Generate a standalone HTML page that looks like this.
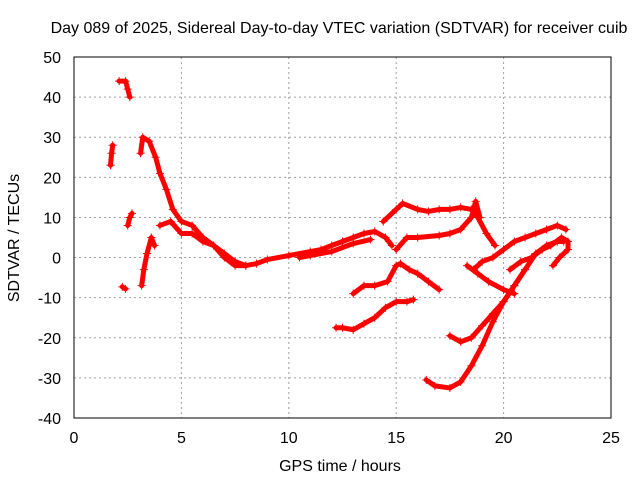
<!DOCTYPE html>
<html><head><meta charset="utf-8"><style>
body{margin:0;background:#fff}
svg text{font-family:"Liberation Sans",sans-serif;font-size:16px;fill:#000}
</style></head><body>
<svg id="chart" width="640" height="480" xmlns="http://www.w3.org/2000/svg">
<rect width="640" height="480" fill="#fff"/>
<text x="339" y="33" text-anchor="middle">Day 089 of 2025, Sidereal Day-to-day VTEC variation (SDTVAR) for receiver cuib</text>
<g id="grid"></g>
<g id="ticks"></g>
<g id="series"></g>
<rect x="74" y="57" width="537" height="361" fill="none" stroke="#000" stroke-width="1"/>
<text x="340" y="471" text-anchor="middle">GPS time / hours</text>
<text transform="translate(19,238) rotate(-90)" text-anchor="middle">SDTVAR / TECUs</text>
</svg>
<script>
const xTicks=[0,5,10,15,20,25];
const yTicks=[-40,-30,-20,-10,0,10,20,30,40,50];
const track1=[[1.7,23],[1.75,26],[1.8,28]];
const track2=[[2.1,44],[2.4,44],[2.5,42],[2.6,40]];
const track3=[[2.25,-7.3],[2.4,-7.8]];
const track4=[[2.5,8],[2.6,10],[2.7,11]];
const track5=[[3.15,-7],[3.25,-3],[3.4,1],[3.6,5],[3.75,3]];
const track6=[[3.1,26],[3.2,30],[3.5,29],[3.8,25],[4.0,21],[4.3,17],[4.6,12],[5.0,9],[5.5,8],[6.0,5],[6.5,3],[7,1],[7.5,-1],[8,-2],[8.5,-1.5],[9,-0.5],[10,0.5],[11,1.5],[11.5,2],[12,3],[12.5,4],[13,5],[13.5,6],[14,6.5],[14.5,5],[14.8,3]];
const track7=[[4.0,8],[4.5,9],[5,6],[5.5,6],[6,4],[6.5,3],[7,0],[7.5,-2],[8,-2]];
const track8=[[10.5,0],[11,0.5],[12,1.5],[13,3.5],[13.8,4.5]];
const track9=[[14.4,9],[15,12],[15.3,13.5],[16,12],[16.5,11.5],[17,12],[17.5,12],[18,12.5],[18.5,12],[18.8,10],[19.2,6],[19.6,3]];
const track10=[[15,2],[15.5,5],[16,5],[17,5.5],[17.5,6],[18,7],[18.5,10],[18.7,14],[18.9,10]];
const track11=[[13,-9],[13.5,-7],[14,-7],[14.6,-6],[15,-2],[15.2,-1.5],[15.6,-3],[16,-4],[16.5,-6],[17,-8]];
const track12=[[12.2,-17.5],[12.5,-17.5],[13,-18],[13.5,-16.5],[14,-15],[14.5,-12.5],[15,-11],[15.5,-11],[15.8,-10.5]];
const track13=[[16.4,-30.5],[16.8,-32],[17.5,-32.5],[18,-31],[18.5,-27],[19,-22],[19.5,-16],[20,-11],[20.5,-7],[21,-3]];
const track14=[[17.5,-19.5],[18,-21],[18.5,-20],[19,-17],[19.5,-14],[20,-11],[20.5,-7],[21,-3],[21.5,1],[22,3],[22.5,4],[22.8,4]];
const track15=[[18.3,-2],[18.8,-4],[19.3,-6],[20,-8],[20.5,-9]];
const track16=[[18.6,-3],[19,-1],[19.5,0],[20,2],[20.5,4],[21,5],[21.5,6],[22,7],[22.5,8],[22.9,7]];
const track17=[[20.3,-3],[20.8,-1],[21.3,0],[21.8,2],[22.2,3],[22.7,5],[23,4],[23,2],[22.6,0],[22.3,-2]];
const tracks=[track1,track2,track3,track4,track5,track6,track7,track8,track9,track10,track11,track12,track13,track14,track15,track16,track17];
const NS="http://www.w3.org/2000/svg";
const X=t=>74+t*537/25, Y=v=>418-(v+40)*361/90;
const grid=document.getElementById('grid'),ticks=document.getElementById('ticks'),ser=document.getElementById('series');
function mk(tag,attrs,parent){const e=document.createElementNS(NS,tag);for(const k in attrs)e.setAttribute(k,attrs[k]);parent.appendChild(e);return e;}
xTicks.forEach(t=>{
 if(t>0&&t<25){const g=mk('line',{x1:X(t),x2:X(t),y1:57,y2:418,stroke:'#a0a0a0','stroke-dasharray':'2,3'},grid);
 
 }
 const l=mk('text',{x:X(t),y:443,'text-anchor':'middle'},ticks);l.textContent=t;
 
 
});
yTicks.forEach(v=>{
 if(v>-40&&v<50){const g=mk('line',{x1:74,x2:611,y1:Y(v),y2:Y(v),stroke:'#a0a0a0','stroke-dasharray':'2,3'},grid);
 
 }
 const l=mk('text',{x:61,y:Y(v)+6,'text-anchor':'end'},ticks);l.textContent=v;
 
 
});
tracks.forEach(tr=>{
 const p=mk('polyline',{points:tr.map(d=>X(d[0])+','+Y(d[1])).join(' '),fill:'none',stroke:'#f00','stroke-width':5,'stroke-linejoin':'round','stroke-linecap':'round'},ser);
 
 
 tr.forEach(d=>{const x=X(d[0]),y=Y(d[1]);
  const m=mk('path',{d:`M${x-4},${y}H${x+4}M${x},${y-4}V${y+4}`,stroke:'#f00','stroke-width':1},ser);
  
  });
});
</script>
</body></html>
